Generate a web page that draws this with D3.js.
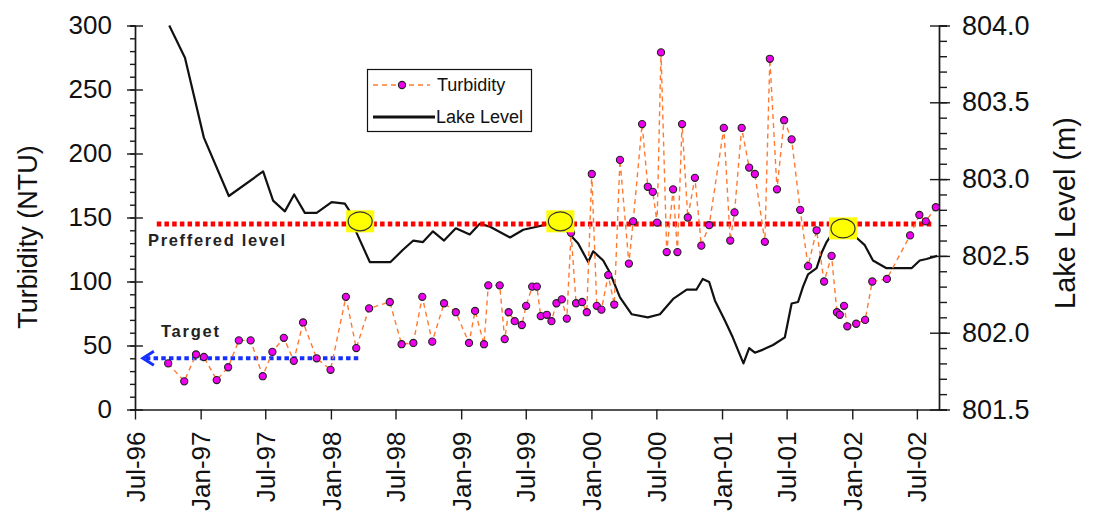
<!DOCTYPE html>
<html>
<head>
<meta charset="utf-8">
<script src="https://cdn.jsdelivr.net/npm/d3@7"></script>
<style>
  body { margin: 0; background: #fff; }
  svg { display: block; font-family: "Liberation Sans", Arial, sans-serif; }
</style>
</head>
<body>
<svg id="chart"></svg>
<script>
// Turbidity samples (NTU)
const turbidityDates = ["1996-10-02","1996-11-16","1996-12-19","1997-01-10","1997-02-15","1997-03-19","1997-04-18","1997-05-21","1997-06-24","1997-07-21",
  "1997-08-22","1997-09-19","1997-10-15","1997-11-22","1997-12-31","1998-02-12","1998-03-13","1998-04-18","1998-06-15","1998-07-18",
  "1998-08-20","1998-09-14","1998-10-12","1998-11-14","1998-12-17","1999-01-23","1999-02-09","1999-03-06","1999-03-18","1999-04-19",
  "1999-05-03","1999-05-14","1999-05-31","1999-06-20","1999-07-02","1999-07-19","1999-08-01","1999-08-12","1999-08-29","1999-09-11",
  "1999-09-25","1999-10-10","1999-10-24","1999-11-05","1999-11-19","1999-12-06","1999-12-19","2000-01-02","2000-01-16","2000-01-29",
  "2000-02-17","2000-03-05","2000-03-21","2000-04-15","2000-04-27","2000-05-22","2000-06-07","2000-06-21","2000-07-03","2000-07-14",
  "2000-07-30","2000-08-17","2000-08-29","2000-09-11","2000-09-27","2000-10-17","2000-11-04","2000-11-26","2001-01-06","2001-01-24",
  "2001-02-05","2001-02-25","2001-03-18","2001-04-03","2001-05-01","2001-05-15","2001-06-04","2001-06-24","2001-07-15","2001-08-08",
  "2001-08-30","2001-09-23","2001-10-14","2001-11-04","2001-11-19","2001-11-27","2001-12-09","2001-12-18","2002-01-12","2002-02-06",
  "2002-02-26","2002-04-08","2002-06-12","2002-07-08","2002-07-26","2002-08-23"];
const turbidityValues = [36,22,43,41,23,33,54,54,26,45,
  56,38,68,40,31,88,48,79,84,51,
  52,88,53,83,76,52,77,51,97,97,
  55,76,69,66,81,96,96,73,74,69,
  83,86,71,138,83,84,76,184,81,78,
  105,82,195,114,147,223,174,170,146,279,
  123,172,123,223,150,181,128,144,220,132,
  154,220,189,184,131,274,172,226,211,156,
  112,140,100,120,76,74,81,65,67,70,
  100,102,136,152,147,158];

// Lake level (m)
const levelDates = ["1996-10-05","1996-11-18","1997-01-10","1997-03-21","1997-06-25","1997-07-23","1997-08-25","1997-09-20","1997-10-20","1997-11-22",
  "1998-01-03","1998-02-09","1998-02-23","1998-03-14","1998-04-20","1998-06-17","1998-07-22","1998-08-20","1998-09-16","1998-10-14",
  "1998-11-14","1998-12-17","1999-01-25","1999-02-22","1999-03-23","1999-05-18","1999-06-24","1999-08-01","1999-09-06","1999-10-24",
  "1999-11-25","1999-12-23","2000-01-06","2000-02-03","2000-02-22","2000-03-21","2000-04-23","2000-06-07","2000-07-11","2000-08-17",
  "2000-09-24","2000-10-21","2000-11-08","2000-11-26","2000-12-12","2001-01-09","2001-01-31","2001-03-02","2001-03-18","2001-04-03",
  "2001-04-26","2001-05-24","2001-06-26","2001-07-15","2001-08-02","2001-08-16","2001-08-30","2001-09-23","2001-10-07","2001-10-21",
  "2001-11-04","2001-12-11","2002-01-17","2002-02-05","2002-02-28","2002-04-07","2002-06-16","2002-07-09","2002-07-28","2002-08-27"];
const levelValues = [804.0,803.79,803.27,802.89,803.05,802.86,802.79,802.90,802.78,802.78,
  802.85,802.84,802.79,802.65,802.46,802.46,802.54,802.60,802.59,802.66,
  802.60,802.68,802.64,802.71,802.69,802.62,802.67,802.69,802.71,802.66,
  802.58,802.46,802.53,802.47,802.39,802.23,802.12,802.10,802.12,802.22,
  802.28,802.28,802.35,802.33,802.21,802.08,801.97,801.80,801.90,801.87,
  801.89,801.92,801.97,802.19,802.20,802.30,802.38,802.42,802.52,802.59,
  802.64,802.68,802.61,802.57,802.47,802.42,802.42,802.47,802.48,802.50];

// reference levels and markers
const preferredLevel = 145;
const preferredRange = ["1996-08-31", "2002-08-15"];
const targetLevel = 40;
const targetRange = ["1996-07-23", "1998-03-27"];
const highlightDates = ["1998-03-24", "1999-10-06", "2001-12-06"];
const highlightValues = [147, 147, 141.5];

// axes
const xDomain = ["1996-07-01", "2002-09-01"];
const xTickLabels = ["Jul-96","Jan-97","Jul-97","Jan-98","Jul-98","Jan-99","Jul-99","Jan-00","Jul-00","Jan-01","Jul-01","Jan-02","Jul-02"];
const leftTicks = [0, 50, 100, 150, 200, 250, 300];
const rightTicks = [801.5, 802.0, 802.5, 803.0, 803.5, 804.0];

const W = 1099, H = 516;
const plot = {left: 135, right: 939, top: 25.5, bottom: 409.5};

const svg = d3.select("#chart").attr("width", W).attr("height", H);

const parseDay = d3.utcParse("%Y-%m-%d");
const parseTick = d3.utcParse("%b-%y");

const x = d3.scaleUtc().domain(xDomain.map(parseDay)).range([plot.left, plot.right]);
const yL = d3.scaleLinear().domain([0, 300]).range([plot.bottom, plot.top]);
const yR = d3.scaleLinear().domain([801.5, 804]).range([plot.bottom, plot.top]);

const turbidity = turbidityDates.map((d, i) => ({date: parseDay(d), value: turbidityValues[i]}));
const level = levelDates.map((d, i) => ({date: parseDay(d), value: levelValues[i]}));

const axisColor = "#1a1a1a";
function styleAxis(g, size) {
  g.attr("font-family", null).attr("font-size", size);
  g.selectAll("path, line").attr("stroke", axisColor).attr("stroke-width", 1.4);
  g.selectAll("text").attr("fill", "#111");
}

// left axis: minor ticks, inner half of major ticks, major ticks with labels
svg.append("g").attr("transform", `translate(${plot.left},0)`)
  .call(d3.axisLeft(yL).tickValues(d3.range(0, 301, 10)).tickSize(5).tickFormat(""))
  .call(g => styleAxis(g, 26));
svg.append("g").attr("transform", `translate(${plot.left},0)`)
  .call(d3.axisLeft(yL).tickValues(leftTicks).tickSize(-8).tickFormat(""))
  .call(g => { styleAxis(g, 26); g.select(".domain").remove(); });
svg.append("g").attr("transform", `translate(${plot.left},0)`)
  .call(d3.axisLeft(yL).tickValues(leftTicks).tickSizeInner(8).tickSizeOuter(0).tickPadding(15))
  .call(g => styleAxis(g, 26));

// right axis
svg.append("g").attr("transform", `translate(${plot.right},0)`)
  .call(d3.axisRight(yR).tickValues(d3.range(15, 41).map(v => 800 + v / 10)).tickSize(8).tickFormat(""))
  .call(g => styleAxis(g, 27));
svg.append("g").attr("transform", `translate(${plot.right},0)`)
  .call(d3.axisRight(yR).tickValues(rightTicks).tickSize(-9).tickFormat(""))
  .call(g => { styleAxis(g, 27); g.select(".domain").remove(); });
svg.append("g").attr("transform", `translate(${plot.right},0)`)
  .call(d3.axisRight(yR).tickValues(rightTicks).tickSizeInner(11).tickSizeOuter(0).tickPadding(12).tickFormat(d3.format(".1f")))
  .call(g => styleAxis(g, 27));

// bottom axis
const gx = svg.append("g").attr("transform", `translate(0,${plot.bottom})`)
  .call(d3.axisBottom(x).tickValues(xTickLabels.map(parseTick)).tickSizeInner(10).tickSizeOuter(0).tickFormat(d3.utcFormat("%b-%y")))
  .call(g => styleAxis(g, 26));
gx.selectAll(".tick text")
  .attr("transform", "rotate(-90)")
  .attr("text-anchor", "end")
  .attr("x", -22).attr("y", 0).attr("dy", "0.35em");

// axis titles
svg.append("text")
  .attr("transform", "translate(37,237) rotate(-90)")
  .attr("text-anchor", "middle").attr("font-size", 27).attr("fill", "#111")
  .text("Turbidity (NTU)");
svg.append("text")
  .attr("transform", "translate(1075,213) rotate(-90)")
  .attr("text-anchor", "middle").attr("font-size", 29).attr("fill", "#111")
  .text("Lake Level (m)");

// lake level line
svg.append("path").datum(level)
  .attr("fill", "none").attr("stroke", "#111").attr("stroke-width", 2.2)
  .attr("stroke-linejoin", "round")
  .attr("d", d3.line().x(d => x(d.date)).y(d => yR(d.value)));

// preferred level
svg.append("line")
  .attr("x1", x(parseDay(preferredRange[0]))).attr("x2", x(parseDay(preferredRange[1])))
  .attr("y1", yL(preferredLevel)).attr("y2", yL(preferredLevel))
  .attr("stroke", "#ff0000").attr("stroke-width", 5).attr("stroke-dasharray", "4.5,3.2");
svg.append("text")
  .attr("x", 148).attr("y", yL(preferredLevel) + 22)
  .attr("font-size", 16.5).attr("font-weight", "bold").attr("fill", "#222")
  .attr("textLength", 137).attr("lengthAdjust", "spacing")
  .text("Preffered level");

// target
const ty = yL(targetLevel);
const tx0 = x(parseDay(targetRange[0]));
svg.append("line")
  .attr("x1", tx0 + 3).attr("x2", x(parseDay(targetRange[1])))
  .attr("y1", ty).attr("y2", ty)
  .attr("stroke", "#1530ff").attr("stroke-width", 4).attr("stroke-dasharray", "4.5,3.2");
svg.append("path")
  .attr("d", `M${tx0 + 11},${ty - 7}L${tx0},${ty}L${tx0 + 11},${ty + 7}`)
  .attr("fill", "none").attr("stroke", "#1530ff").attr("stroke-width", 3);
svg.append("text")
  .attr("x", 161).attr("y", ty - 21)
  .attr("font-size", 16.5).attr("font-weight", "bold").attr("fill", "#222")
  .attr("textLength", 58).attr("lengthAdjust", "spacing")
  .text("Target");

// turbidity dashed line and markers
svg.append("path").datum(turbidity)
  .attr("fill", "none").attr("stroke", "#ff7a30").attr("stroke-width", 1.4)
  .attr("stroke-dasharray", "5,4")
  .attr("d", d3.line().x(d => x(d.date)).y(d => yL(d.value)));
svg.append("g").selectAll("circle").data(turbidity).join("circle")
  .attr("cx", d => x(d.date)).attr("cy", d => yL(d.value)).attr("r", 3.6)
  .attr("fill", "#ee00ee").attr("stroke", "#222").attr("stroke-width", 1.1);

// yellow highlights
const hl = svg.append("g").selectAll("g").data(highlightDates).join("g")
  .attr("transform", (d, i) => `translate(${x(parseDay(d))},${yL(highlightValues[i])})`);
hl.append("rect").attr("x", -14).attr("y", -11).attr("width", 28).attr("height", 22).attr("fill", "#ffff00");
hl.append("ellipse").attr("rx", 12).attr("ry", 9.5).attr("fill", "#ffff00").attr("stroke", "#333").attr("stroke-width", 1.2);

// legend
const lg = svg.append("g");
lg.append("rect").attr("x", 367.5).attr("y", 69.5).attr("width", 164).attr("height", 62)
  .attr("fill", "#fff").attr("stroke", "#111").attr("stroke-width", 1.2);
lg.append("line").attr("x1", 373).attr("x2", 430).attr("y1", 85).attr("y2", 85)
  .attr("stroke", "#ff7a30").attr("stroke-width", 1.4).attr("stroke-dasharray", "5,4");
lg.append("circle").attr("cx", 402).attr("cy", 85).attr("r", 3.6)
  .attr("fill", "#ee00ee").attr("stroke", "#222").attr("stroke-width", 1.1);
lg.append("text").attr("x", 437).attr("y", 85).attr("dy", "0.35em").attr("font-size", 18).attr("fill", "#111").text("Turbidity");
lg.append("line").attr("x1", 373).attr("x2", 435).attr("y1", 117).attr("y2", 117)
  .attr("stroke", "#111").attr("stroke-width", 2.8);
lg.append("text").attr("x", 436).attr("y", 117).attr("dy", "0.35em").attr("font-size", 18).attr("fill", "#111").text("Lake Level");
</script>
</body>
</html>
